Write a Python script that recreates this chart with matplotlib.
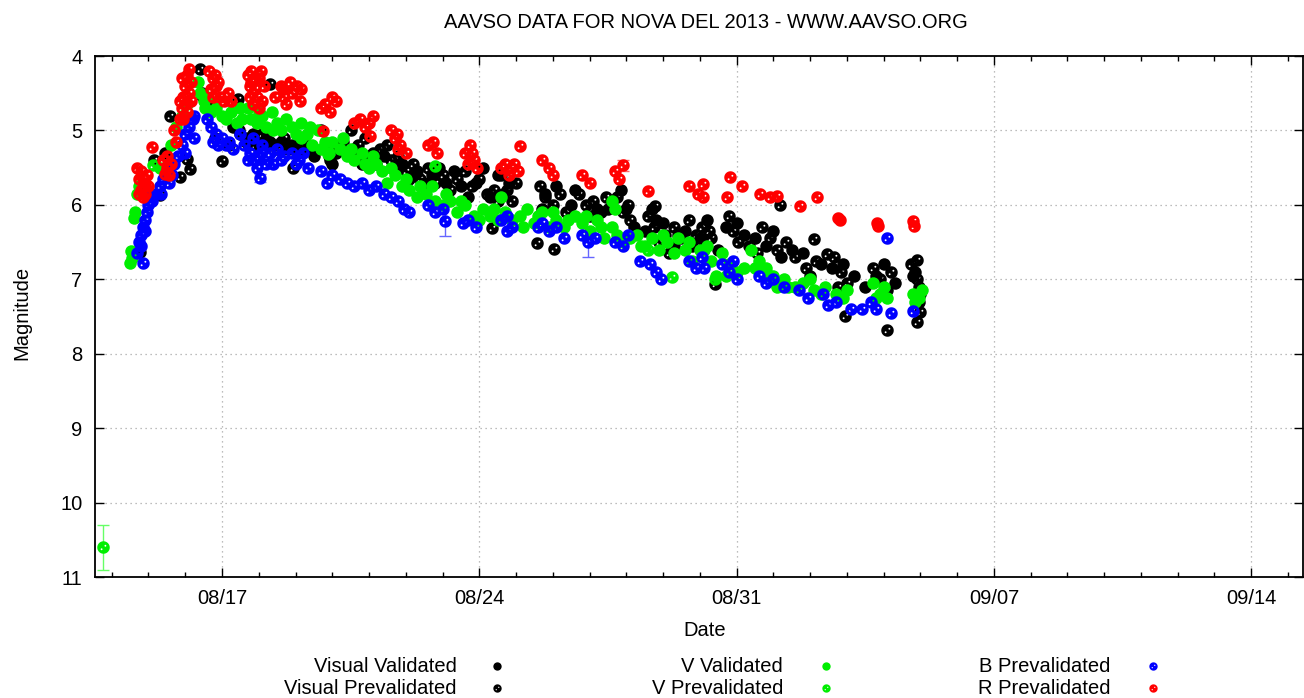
import numpy as np
import matplotlib
matplotlib.use("Agg")
import matplotlib.pyplot as plt
import matplotlib.dates as mdates
from matplotlib.path import Path
from matplotlib.lines import Line2D
from matplotlib.ticker import FixedLocator
from datetime import datetime, timedelta

# ---------------- data (time = day of August 2013, >31 runs into September) ----------------
vis_val_t = [16.45, 16.6, 17.3, 17.5, 17.65, 17.85, 18.0, 18.2, 18.4, 18.6, 18.8, 19.0, 19.3, 19.9, 20.2,
             20.6, 21.0, 21.4, 21.9, 22.3, 22.7, 23.1, 23.5, 23.9, 24.3, 24.8, 25.8, 26.5, 27.2, 28.0,
             28.8, 29.4, 30.0, 30.7, 31.8, 32.5, 33.3, 33.9, 34.8, 35.85,
             19.5, 20.0, 20.4, 20.8, 21.2, 21.7, 22.1, 22.5, 22.9, 23.3, 23.7, 24.1, 24.5, 24.65,
             25.7, 26.1, 26.6, 27.0, 27.5, 27.85, 28.2, 28.5, 28.7, 29.0, 29.3, 29.6, 29.8, 30.2,
             30.5, 31.0, 31.2, 31.5, 32.0, 32.2, 32.8, 33.0, 33.6, 34.2, 34.5, 35.0, 35.3, 35.8,
             36.0, 35.95]
vis_val_m = [4.5, 4.6, 4.95, 5.05, 5.15, 5.05, 5.2, 5.1, 5.2, 5.15, 5.25, 5.2, 5.25, 5.35, 5.25,
             5.25, 5.35, 5.35, 5.45, 5.55, 5.6, 5.7, 5.75, 5.7, 5.9, 5.7, 5.85, 6.0, 6.05, 6.05,
             6.2, 6.4, 6.45, 6.3, 6.55, 6.6, 6.8, 6.8, 6.95, 6.9,
             5.35, 5.45, 5.3, 5.45, 5.45, 5.5, 5.65, 5.7, 5.5, 5.55, 5.9, 5.5, 5.6, 5.85,
             6.05, 5.75, 5.8, 6.15, 6.05, 5.8, 6.3, 6.35, 6.05, 6.25, 6.55, 6.35, 6.55, 6.2,
             6.6, 6.25, 6.4, 6.45, 6.35, 6.7, 6.65, 6.95, 6.85, 6.95, 7.1, 6.8, 7.05, 6.95,
             7.2, 7.3]

vis_pre_t = [14.76, 15.14, 15.44, 15.30, 15.59, 16.05, 16.13, 15.86, 16.40, 16.45, 17.00, 17.43, 18.31, 18.92,
             16.8, 17.2, 17.45, 17.7, 17.9, 18.1, 18.3, 18.5, 18.7, 18.9, 19.05, 19.2, 19.35, 19.7, 19.8,
             19.95, 20.1, 20.3, 20.5, 20.7, 20.9, 21.1, 21.3, 21.5, 21.6, 21.8, 22.0, 22.2, 22.4, 22.6,
             22.8, 23.0, 23.2, 23.4, 23.6, 23.8, 24.0, 24.2, 24.4, 24.5, 24.35, 24.6, 24.75, 24.9, 25.0,
             25.65, 25.8, 26.0, 26.2, 26.35, 26.7, 26.9, 27.1, 27.3, 27.45, 27.75, 27.9, 28.05, 28.1,
             28.6, 28.75, 28.9, 29.05, 29.15, 29.3, 29.5, 29.7, 29.9, 30.1, 30.25, 25.57, 26.04, 28.78,
             30.05, 30.3, 30.8, 30.9, 31.05, 31.35, 31.55, 31.7, 31.9, 32.1, 32.35, 32.18, 32.6, 32.9,
             33.15, 33.1, 33.45, 33.65, 33.85, 34.0, 33.75, 34.7, 34.9, 35.1, 35.2, 35.75, 35.9, 35.95,
             35.09, 35.9, 35.99, 33.95, 30.42, 35.9]
vis_pre_m = [6.64, 5.40, 5.30, 5.87, 4.81, 5.38, 5.52, 5.62, 4.17, 4.54, 5.41, 4.58, 4.38, 5.50,
             5.10, 5.20, 5.00, 5.10, 5.20, 5.05, 5.15, 5.25, 5.10, 5.20, 5.30, 5.10, 5.20, 5.00, 5.25,
             5.40, 5.30, 5.15, 5.00, 5.20, 5.10, 5.30, 5.25, 5.20, 5.40, 5.35, 5.55, 5.45, 5.65, 5.50,
             5.70, 5.60, 5.80, 5.65, 5.55, 5.75, 5.65, 5.85, 5.80, 5.95, 6.31, 5.60, 5.80, 5.95, 5.70,
             5.75, 5.90, 6.00, 5.85, 6.10, 5.85, 6.00, 5.95, 6.10, 5.90, 5.90, 6.10, 6.00, 6.20,
             6.15, 6.30, 6.50, 6.40, 6.65, 6.30, 6.45, 6.20, 6.40, 6.55, 6.35, 6.51, 6.59, 6.02,
             6.30, 6.45, 6.15, 6.35, 6.50, 6.55, 6.65, 6.30, 6.45, 6.60, 6.50, 6.00, 6.70, 6.85,
             6.75, 6.46, 6.66, 6.70, 6.90, 7.05, 7.10, 6.85, 7.00, 7.15, 6.90, 6.80, 7.00, 7.10,
             7.68, 7.58, 7.44, 7.49, 7.07, 6.74]

v_val_t = [14.50, 14.52, 14.55, 14.60, 14.64, 14.70, 14.75, 15.3, 15.6, 15.75, 15.9, 16.05, 16.35, 16.4,
           16.5, 16.55, 16.6, 16.7, 16.85, 17.0, 17.1, 17.25, 17.4, 17.55, 17.7, 17.8, 17.95, 18.1,
           18.2, 18.35, 18.5, 18.6, 18.75, 18.9, 19.0, 19.15, 19.15, 19.3, 19.45, 19.6, 19.8, 19.9,
           20.0, 20.2, 20.4, 20.6, 20.8, 21.0, 21.2, 21.35, 21.5, 21.7, 21.9, 22.1, 22.3, 22.55, 22.8,
           23.0, 23.2, 23.4, 23.6, 23.85, 24.1, 24.3, 24.5, 24.6, 24.7, 24.9, 25.1, 25.3, 25.5, 25.7,
           25.9, 26.1, 26.3, 26.6, 26.8, 27.0, 27.2, 27.4, 27.6, 27.75, 27.9, 27.6, 27.7, 28.3, 28.5,
           28.7, 28.9, 29.1, 29.4, 29.6, 29.8, 30.0, 30.1, 30.3, 30.45, 30.6, 30.8, 31.0, 31.4, 31.6,
           31.8, 32.0, 32.1, 32.3, 32.6, 32.8, 33.1, 33.4, 33.7, 34.0, 34.7, 34.9, 35.1, 35.8, 35.95,
           36.05,
           17.5, 18.0, 18.4, 19.4, 19.7, 20.3, 20.5, 20.9, 21.1, 21.6, 22.0, 22.4, 22.7, 23.1, 23.5,
           24.0, 24.4, 25.2, 25.6, 26.0, 26.4, 26.9, 27.3, 28.1, 28.4, 29.0, 29.3, 29.7, 30.2, 30.7,
           31.2, 31.5, 31.9, 32.4, 33.0, 33.3, 33.9, 34.8, 35.0, 35.85]
v_val_m = [6.78, 6.62, 6.72, 6.18, 6.10, 5.85, 5.75, 5.5, 5.2, 4.95, 4.80, 4.65, 4.35, 4.50,
           4.60, 4.70, 4.55, 4.75, 4.70, 4.80, 4.85, 4.75, 4.90, 4.85, 4.70, 4.85, 4.90, 4.80,
           4.95, 4.75, 4.90, 5.00, 4.85, 4.95, 5.05, 5.10, 4.90, 5.05, 5.20, 5.00, 5.15, 5.30,
           5.15, 5.25, 5.35, 5.40, 5.30, 5.50, 5.45, 5.55, 5.70, 5.60, 5.75, 5.80, 5.90, 5.85, 5.95,
           6.00, 5.95, 6.10, 6.00, 6.15, 6.05, 6.15, 6.20, 5.90, 6.10, 6.20, 6.15, 6.05, 6.25, 6.10,
           6.30, 6.20, 6.30, 6.15, 6.25, 6.35, 6.20, 6.45, 6.30, 6.40, 6.50, 5.95, 6.05, 6.40, 6.55,
           6.45, 6.60, 6.50, 6.45, 6.60, 6.75, 6.60, 6.60, 6.75, 6.95, 6.65, 6.80, 6.90, 6.60, 6.75,
           6.85, 6.95, 7.10, 7.00, 7.10, 7.05, 7.15, 7.10, 7.20, 7.15, 7.05, 7.20, 7.25, 7.20, 7.25,
           7.15,
           4.70, 4.75, 5.00, 4.95, 5.25, 5.10, 5.25, 5.45, 5.35, 5.50, 5.65, 5.75, 5.75, 5.85, 5.95,
           6.20, 6.05, 6.30, 6.15, 6.10, 6.20, 6.15, 6.30, 6.45, 6.55, 6.40, 6.65, 6.50, 6.55, 6.95,
           6.85, 6.85, 6.95, 7.10, 7.00, 7.20, 7.25, 7.25, 7.10, 7.30]

v_pre_t = [13.76, 15.12, 19.88, 22.8, 28.6, 29.25, 30.4]
v_pre_m = [10.6, 5.47, 5.32, 5.48, 6.6, 6.97, 7.0]
v_pre_err = [0.3, 0.0, 0.0, 0.0, 0.0, 0.0, 0.0]

b_pre_t = [14.85, 14.70, 14.75, 14.80, 14.85, 14.90, 14.95, 15.00, 15.05, 14.80, 14.90, 15.20, 15.30, 15.40,
           15.50, 15.55, 15.70, 15.80, 15.90, 16.00, 16.10, 16.20, 16.25, 16.00, 16.25, 16.60, 16.70,
           16.85, 17.00, 17.10, 17.20, 17.50, 17.60, 17.75, 17.85, 18.00, 18.10, 18.20, 17.95, 18.03,
           18.50, 18.70, 18.90, 19.10, 19.20, 19.35, 19.70, 19.85, 20.00, 20.20, 20.40, 20.60, 20.80,
           21.00, 21.20, 21.40, 21.60, 21.80, 21.95, 22.10, 22.60, 22.80, 23.00, 23.07, 23.55, 23.70,
           23.90, 24.60, 24.75, 24.90, 24.75, 25.60, 25.70, 25.90, 26.10, 26.30, 26.80, 26.95, 27.15,
           27.70, 27.90, 28.05, 28.37, 28.65, 28.80, 28.95, 29.70, 29.90, 30.05, 30.10, 30.60, 30.80,
           31.00, 30.90, 31.60, 31.80, 32.00, 32.30, 32.70, 32.95, 33.35, 33.50, 33.70, 34.10, 34.40,
           34.65, 34.80, 35.20, 35.80, 35.10,
           16.90, 16.75, 17.30, 17.70, 17.90, 18.05, 18.30, 18.40, 18.60, 19.00, 15.10, 15.35, 15.65]
b_pre_m = [6.78, 6.65, 6.50, 6.40, 6.30, 6.20, 6.10, 6.00, 5.90, 6.55, 6.35, 5.85, 5.75, 5.65,
           5.55, 5.70, 5.45, 5.35, 5.20, 5.05, 4.95, 4.85, 5.10, 5.30, 4.80, 4.85, 4.95,
           5.05, 5.10, 5.20, 5.15, 5.05, 5.20, 5.30, 5.10, 5.35, 5.20, 5.45, 5.50, 5.64,
           5.25, 5.35, 5.30, 5.40, 5.30, 5.50, 5.55, 5.70, 5.60, 5.65, 5.70, 5.75, 5.70,
           5.80, 5.75, 5.85, 5.90, 5.95, 6.05, 6.10, 6.00, 6.10, 6.05, 6.22, 6.25, 6.20,
           6.30, 6.20, 6.35, 6.30, 6.15, 6.30, 6.25, 6.35, 6.30, 6.45, 6.40, 6.50, 6.45,
           6.50, 6.55, 6.40, 6.75, 6.80, 6.90, 7.00, 6.75, 6.85, 6.70, 6.85, 6.80, 6.90,
           7.00, 6.75, 6.95, 7.05, 7.00, 7.10, 7.15, 7.25, 7.20, 7.35, 7.30, 7.40, 7.40,
           7.30, 7.40, 7.45, 7.43, 6.45,
           5.20, 5.15, 5.25, 5.40, 5.40, 5.30, 5.30, 5.45, 5.40, 5.45, 5.95, 5.85, 5.60]
b_pre_err = [0.0] * 39 + [0.05] + [0.0] * 23 + [0.2] + [0.0] * 13 + [0.2] + [0.0] * 43

r_pre_t = [14.70, 14.75, 14.80, 14.85, 14.90, 14.95, 15.00, 14.80, 14.75, 15.10, 15.40, 15.50, 15.60, 15.45,
           15.70, 15.75, 15.85, 15.90, 15.95, 16.00, 16.05, 16.10, 16.15, 16.00, 16.10, 15.95, 16.65,
           16.75, 16.85, 16.95, 17.05, 16.70, 17.15, 17.25, 17.70, 17.80, 17.90, 18.00, 18.10, 17.85,
           18.15, 17.75, 18.45, 18.60, 18.75, 18.90, 19.05, 18.85, 19.15, 19.12, 19.70, 19.80, 19.95,
           20.10, 19.75, 20.60, 20.75, 20.90, 21.10, 21.03, 21.60, 21.70, 21.85, 22.00, 21.75, 22.60,
           22.75, 22.85, 23.60, 23.75, 23.85, 23.95, 23.70, 24.60, 24.80, 24.95, 25.05, 24.70, 25.11,
           25.70, 25.90, 26.00, 26.80, 27.00, 27.70, 27.90, 27.80, 28.60, 29.70, 29.95, 30.09, 30.09,
           30.74, 30.82, 31.15, 31.65, 31.90, 32.10, 32.72, 33.19, 33.76, 33.80, 34.83, 34.85, 35.80,
           35.82,
           15.90, 16.05, 15.85, 16.15, 16.80, 16.90, 16.75, 17.75, 17.95, 18.05, 17.80, 18.00, 17.90,
           14.85, 14.90, 15.50, 15.55, 18.70, 18.65, 20.00, 21.00, 21.80, 23.80, 24.85]
r_pre_m = [5.50, 5.65, 5.80, 5.90, 5.70, 5.60, 5.75, 5.55, 5.85, 5.22, 5.40, 5.50, 5.45, 5.58,
           5.00, 5.15, 4.85, 4.70, 4.55, 4.40, 4.25, 4.18, 4.35, 4.65, 4.50, 4.85, 4.20,
           4.30, 4.40, 4.55, 4.60, 4.45, 4.50, 4.60, 4.25, 4.35, 4.45, 4.30, 4.60, 4.65,
           4.40, 4.55, 4.55, 4.40, 4.65, 4.50, 4.40, 4.35, 4.45, 4.60, 4.70, 4.65, 4.75,
           4.60, 5.01, 4.90, 4.85, 4.95, 4.80, 5.07, 5.00, 5.10, 5.20, 5.30, 5.05, 5.20,
           5.15, 5.30, 5.30, 5.20, 5.40, 5.50, 5.45, 5.50, 5.60, 5.45, 5.55, 5.45, 5.21,
           5.40, 5.50, 5.60, 5.60, 5.70, 5.55, 5.47, 5.65, 5.82, 5.75, 5.85, 5.72, 5.90,
           5.90, 5.63, 5.74, 5.86, 5.90, 5.88, 6.02, 5.90, 6.17, 6.20, 6.24, 6.28, 6.22,
           6.28,
           4.30, 4.75, 4.60, 4.60, 4.25, 4.35, 4.55, 4.40, 4.55, 4.20, 4.20, 4.70, 4.30,
           5.65, 5.85, 5.35, 5.60, 4.55, 4.45, 4.55, 4.90, 5.25, 5.30, 5.50]
r_pre_err = [0.0] * 85 + [0.07] + [0.0] * 45

x_tick_labels = ["08/17", "08/24", "08/31", "09/07", "09/14"]
x_tick_days = [17, 24, 31, 38, 45]
y_ticks = [4, 5, 6, 7, 8, 9, 10, 11]

# ---------------- styling ----------------
plt.rcParams["font.family"] = ["Liberation Sans", "DejaVu Sans"]
BLACK, GREEN, BLUE, RED = "#000000", "#00ee00", "#0000ff", "#ff0000"
FS = 14.5


def to_dates(days):
    base = datetime(2013, 8, 1)
    return [mdates.date2num(base + timedelta(days=d - 1)) for d in days]


def hatched_path():
    th = np.linspace(0, 2 * np.pi, 40, endpoint=False)
    verts, codes = [], []

    def ring(cx, cy, r, ccw):
        t = th if ccw else th[::-1]
        v = np.column_stack([cx + r * np.cos(t), cy + r * np.sin(t)]).tolist()
        verts.extend(v + [v[0]])
        codes.extend([Path.MOVETO] + [Path.LINETO] * (len(v) - 1) + [Path.CLOSEPOLY])

    ring(0, 0, 1.0, True)
    ring(0.30, 0.28, 0.15, False)
    ring(-0.30, -0.28, 0.15, False)
    return Path(verts, codes)


HATCH = hatched_path()
MS = 9.0

fig = plt.figure(figsize=(13.04, 6.98), dpi=100)
W, H = 1304, 698
ax = fig.add_axes([95 / W, 1 - 577 / H, (1303 - 95) / W, (577 - 56) / H])


def errs(t, m, e, color):
    sel = [i for i, v in enumerate(e) if v > 0]
    if sel:
        ax.errorbar([to_dates(t)[i] for i in sel], [m[i] for i in sel], yerr=[e[i] for i in sel],
                    fmt="none", ecolor=color, elinewidth=1.0, capsize=4.5, capthick=1.0, zorder=2)


errs(v_pre_t, v_pre_m, v_pre_err, "#66ff66")
errs(b_pre_t, b_pre_m, b_pre_err, "#6666ff")
errs(r_pre_t, r_pre_m, r_pre_err, "#ff6666")

series = [
    (vis_val_t, vis_val_m, BLACK, "o", "Visual Validated"),
    (vis_pre_t, vis_pre_m, BLACK, HATCH, "Visual Prevalidated"),
    (v_val_t, v_val_m, GREEN, "o", "V Validated"),
    (v_pre_t, v_pre_m, GREEN, HATCH, "V Prevalidated"),
    (b_pre_t, b_pre_m, BLUE, HATCH, "B Prevalidated"),
    (r_pre_t, r_pre_m, RED, HATCH, "R Prevalidated"),
]
for t, m, c, mk, lab in series:
    ax.plot(to_dates(t), m, linestyle="none", marker=mk, ms=MS, mfc=c, mec=c, mew=0.0, zorder=3)

ax.set_xlim(to_dates([13.545])[0], to_dates([46.41])[0])
ax.set_ylim(11, 4)
ax.xaxis.set_major_locator(FixedLocator(to_dates(x_tick_days)))
ax.set_xticklabels(x_tick_labels)
ax.xaxis.set_minor_locator(mdates.DayLocator())
ax.set_yticks(y_ticks)
ax.set_yticklabels([str(v) for v in y_ticks])

ax.grid(True, which="major", color="#a8a8a8", linestyle=(0, (1, 3)), linewidth=0.9)
ax.set_axisbelow(True)
ax.tick_params(which="both", direction="in", top=True, right=True, width=1.0, colors="black",
               labelsize=FS)
ax.tick_params(which="major", length=6.5, pad=9)
ax.tick_params(which="minor", length=3.5)
ax.tick_params(axis="y", which="minor", left=False, right=False)
for s in ax.spines.values():
    s.set_linewidth(1.3)

fig.text(706 / W, 1 - 22 / H, "AAVSO DATA FOR NOVA DEL 2013 - WWW.AAVSO.ORG",
         ha="center", va="center", fontsize=FS)
fig.text(705 / W, 1 - 630 / H, "Date", ha="center", va="center", fontsize=FS)
fig.text(22 / W, 1 - 313 / H, "Magnitude", ha="center", va="center", rotation=90, fontsize=FS)

# legend: right-aligned labels followed by sample markers
text_right = [457, 783, 1110]
mark_x = [497, 826, 1153]
rows_y = [666, 688]
for i, (t, m, c, mk, lab) in enumerate(series):
    col, row = divmod(i, 2)
    yy = 1 - rows_y[row] / H
    fig.text(text_right[col] / W, yy, lab, ha="right", va="center", fontsize=FS)
    fig.add_artist(Line2D([mark_x[col] / W], [yy], transform=fig.transFigure, linestyle="none",
                          marker=mk, ms=6.0, mfc=c, mec=c, mew=0.0))

fig.savefig("out.png", dpi=100)
